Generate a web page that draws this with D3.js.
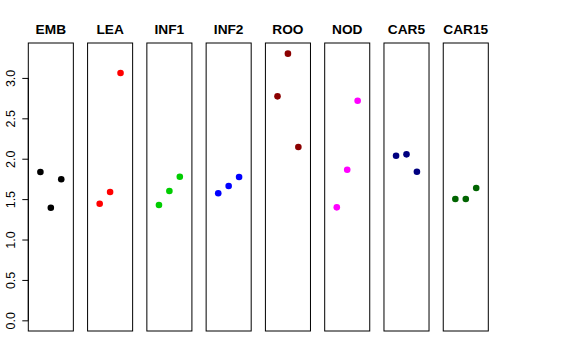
<!DOCTYPE html>
<html>
<head>
<meta charset="utf-8">
<script src="https://cdn.jsdelivr.net/npm/d3@7/dist/d3.min.js"></script>
<style>
  html, body { margin: 0; padding: 0; background: #fff; }
  svg { display: block; }
</style>
</head>
<body>
<svg id="chart" width="576" height="360"></svg>
<script>
// Data
const categories = ["EMB", "LEA", "INF1", "INF2", "ROO", "NOD", "CAR5", "CAR15"];
const colors = ["#000000", "#FF0000", "#00CD00", "#0000FF", "#8B0000", "#FF00FF", "#000080", "#006400"];
const values = [
  [1.835, 1.394, 1.745],
  [1.443, 1.588, 3.06],
  [1.427, 1.600, 1.777],
  [1.572, 1.662, 1.773],
  [2.772, 3.300, 2.145],
  [1.398, 1.864, 2.718],
  [2.037, 2.054, 1.839],
  [1.501, 1.501, 1.637]
];
const yTicks = [0, 0.5, 1.0, 1.5, 2.0, 2.5, 3.0];

const svg = d3.select("#chart");
const plotTop = 43, plotBottom = 331;

const band = d3.scaleBand().domain(categories).range([28.3, 488.3]).paddingInner(0.24).paddingOuter(0);
const yMax = 3.3, ext = yMax * 0.04;
const y = d3.scaleLinear().domain([-ext, yMax + ext]).range([plotBottom, plotTop]);
const xIn = d3.scaleLinear().domain([-0.16, 4.16]).range([0, band.bandwidth()]);

// Y axis on the left of first panel
const yAxis = d3.axisLeft(y).tickValues(yTicks).tickSize(6).tickFormat(d3.format(".1f"));
const ga = svg.append("g").attr("transform", `translate(${band(categories[0])},0)`).call(yAxis);
ga.select(".domain").remove();
ga.selectAll(".tick line").attr("stroke", "#000");
ga.selectAll(".tick text")
  .attr("font-family", "Liberation Sans, Arial, sans-serif")
  .attr("font-size", "12.5px")
  .attr("fill", "#000")
  .attr("transform", "rotate(-90)")
  .attr("x", 0)
  .attr("y", -13)
  .attr("dy", 0)
  .attr("text-anchor", "middle");
ga.append("line").attr("x1", 0).attr("x2", 0).attr("y1", y(0)).attr("y2", y(3)).attr("stroke", "#000");

categories.forEach((cat, i) => {
  const g = svg.append("g").attr("transform", `translate(${band(cat)},0)`);
  g.append("rect")
    .attr("x", 0).attr("y", plotTop)
    .attr("width", band.bandwidth()).attr("height", plotBottom - plotTop)
    .attr("fill", "none").attr("stroke", "#000").attr("stroke-width", 1);
  g.append("text")
    .attr("x", band.bandwidth() / 2).attr("y", 34.3)
    .attr("text-anchor", "middle")
    .attr("font-family", "Liberation Sans, Arial, sans-serif")
    .attr("font-weight", "bold")
    .attr("font-size", "13.7px")
    .text(cat);
  g.selectAll("circle").data(values[i]).enter().append("circle")
    .attr("cx", (d, j) => xIn(j + 1))
    .attr("cy", d => y(d))
    .attr("r", 3.3)
    .attr("fill", colors[i]);
});
</script>
</body>
</html>
